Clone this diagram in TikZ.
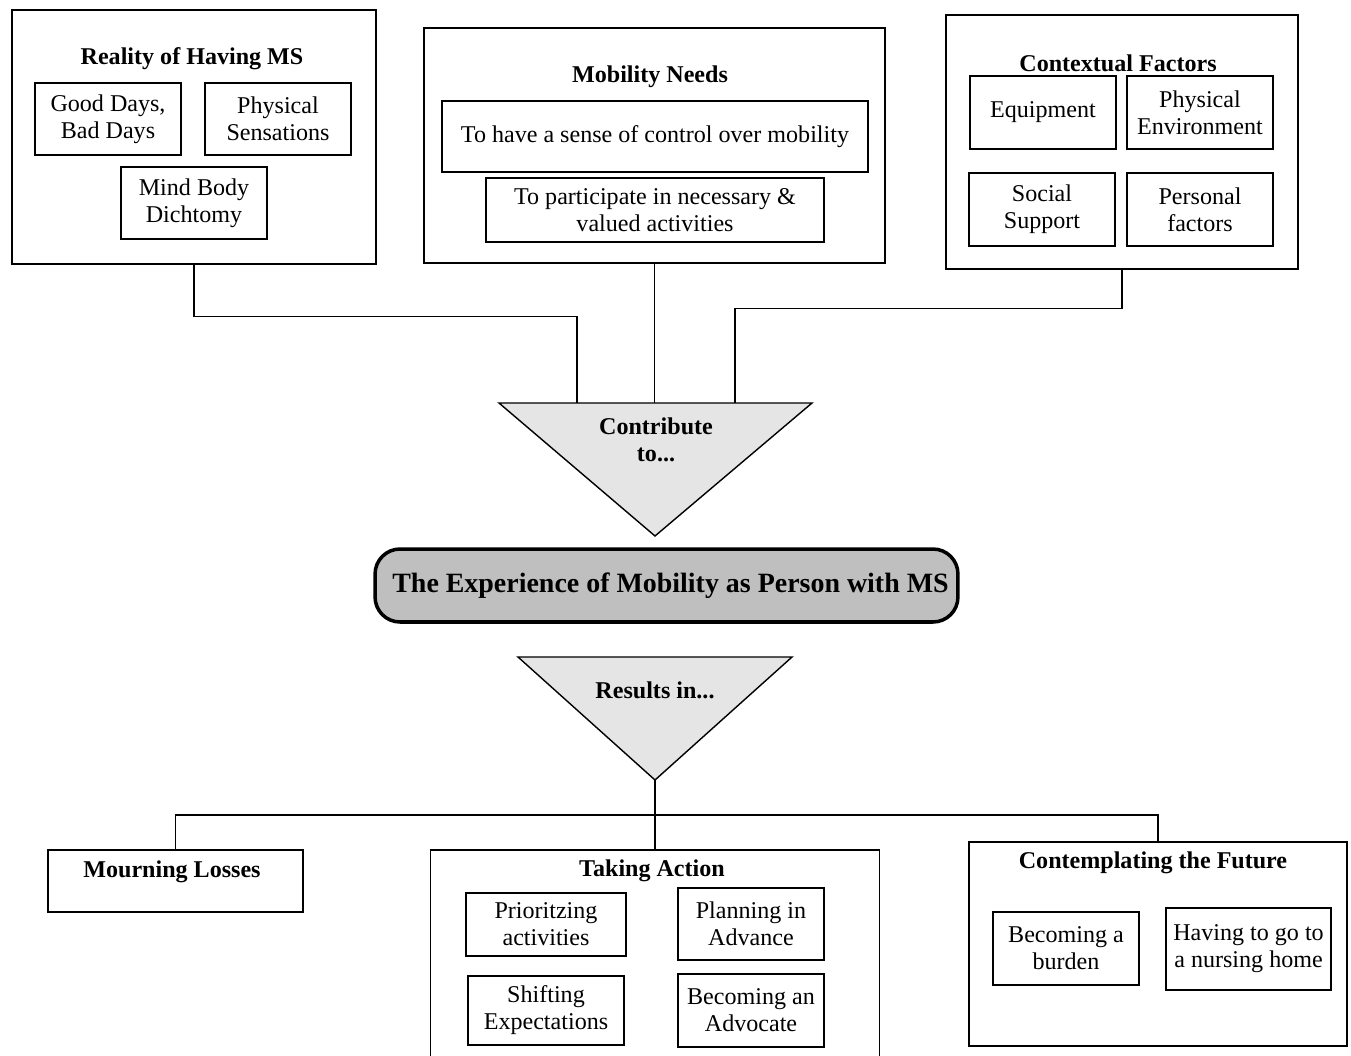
\documentclass[tikz,border=0pt]{standalone}
\usepackage{fontspec}
\setmainfont{Liberation Serif}
\usetikzlibrary{calc}

\tikzset{
  box/.style={draw, line width=0.8pt, align=center, inner sep=0pt,
    font=\fontsize{13.7}{15.4}\selectfont},
  outer/.style={draw, line width=0.8pt, inner sep=0pt},
  title/.style={font=\fontsize{13.7}{15.4}\selectfont\bfseries, align=center, yshift=-0.05cm},
  link/.style={line width=0.8pt},
  funnel/.style={draw, line width=0.8pt, fill=gray!20, line join=miter}
}

\begin{document}
\begin{tikzpicture}[x=0.02cm, y=-0.02cm]
        \useasboundingbox (0,0) rectangle (1351,1055);

        % Draw the three source groups
        \node[outer, minimum width=7.28cm, minimum height=5.08cm] (reality) at (194,137) {};
        \node[title] (realityT) at (192,56) {Reality of Having MS};
        \node[box, minimum width=2.92cm, minimum height=1.44cm] (goodbad) at (108,119) {Good Days,\\Bad Days};
        \node[box, minimum width=2.92cm, minimum height=1.44cm] (sensations) at (278,119) {Physical\\Sensations};
        \node[box, minimum width=2.92cm, minimum height=1.44cm] (mindbody) at (194,203) {Mind Body\\Dichtomy};

        \node[outer, minimum width=9.22cm, minimum height=4.70cm] (needs) at (654.5,145.5) {};
        \node[title] (needsT) at (650,74) {Mobility Needs};
        \node[box, minimum width=8.52cm, minimum height=1.42cm] (control) at (655,136.5) {To have a sense of control over mobility};
        \node[box, minimum width=6.76cm, minimum height=1.28cm] (participate) at (655,210) {To participate in necessary \&\\valued activities};

        \node[outer, minimum width=7.04cm, minimum height=5.08cm] (context) at (1122,142) {};
        \node[title] (contextT) at (1118,61) {Contextual Factors};
        \node[box, minimum width=2.92cm, minimum height=1.46cm] (equip) at (1043,112.5) {Equipment};
        \node[box, minimum width=2.92cm, minimum height=1.46cm] (physenv) at (1200,112.5) {Physical\\Environment};
        \node[box, minimum width=2.92cm, minimum height=1.46cm] (social) at (1042,209.5) {Social\\Support};
        \node[box, minimum width=2.92cm, minimum height=1.46cm] (personal) at (1200,209.5) {Personal\\factors};

        % Draw the upper funnel
        \coordinate (in1) at (577,403);
        \coordinate (in2) at (654.5,403);
        \coordinate (in3) at (735,403);
        \draw[funnel] (499,403) -- (812,403) -- (655,536) coordinate (contribTip) -- cycle;
        \node[title] (contrib) at (656,437) {Contribute\\to...};

        % Lines into the funnel
        \draw[link] (reality.south) -- ++(0,52) -| (in1);
        \draw[link] (needs.south) -- (in2);
        \draw[link] (context.south) -- ++(0,39) -| (in3);

        % Central experience
        \node[draw, line width=2pt, fill=gray!50, rounded corners=0.5cm,
              minimum width=11.66cm, minimum height=1.46cm, inner sep=0pt,
              font=\fontsize{15.9}{19}\selectfont\bfseries] (experience) at (666.5,585.5)
              {\hspace{0.16cm}\raisebox{-2pt}{The Experience of Mobility as Person with MS}};

        % Draw the lower funnel
        \draw[funnel] (518,657) -- (792,657) -- (655,780) coordinate (resultsTip) -- cycle;
        \node[title] (results) at (655,688) {Results in...};

        % The three outcomes
        \node[outer, minimum width=5.1cm, minimum height=1.24cm] (mourning) at (175.5,881) {};
        \node[title] (mourningT) at (172,869) {Mourning Losses};

        \node[outer, minimum width=8.98cm, minimum height=4.4cm] (action) at (655,960) {};
        \node[title] (actionT) at (652,868) {Taking Action};
        \node[box, minimum width=3.2cm, minimum height=1.26cm] (prior) at (546,924.5) {Prioritzing\\activities};
        \node[box, minimum width=2.92cm, minimum height=1.44cm] (planning) at (751,924) {Planning in\\Advance};
        \node[box, minimum width=3.12cm, minimum height=1.38cm] (shifting) at (546,1010.5) {Shifting\\Expectations};
        \node[box, minimum width=2.92cm, minimum height=1.46cm] (advocate) at (751,1010.5) {Becoming an\\Advocate};

        \node[outer, minimum width=7.56cm, minimum height=4.08cm] (future) at (1158,944) {};
        \node[title] (futureT) at (1153,860) {Contemplating the Future};
        \node[box, minimum width=2.92cm, minimum height=1.46cm] (burden) at (1066,948.5) {Becoming a\\burden};
        \node[box, minimum width=3.3cm, minimum height=1.64cm] (nursing) at (1248.5,949) {Having to go to\\a nursing home};

        % Lines out of the funnel
        \coordinate (split) at (655,815);
        \draw[link] (resultsTip) -- (split);
        \draw[link] (mourning.north) |- (split);
        \draw[link] (action.north) -- (split);
        \draw[link] (future.north) |- (split);
    \end{tikzpicture}
\end{document}
